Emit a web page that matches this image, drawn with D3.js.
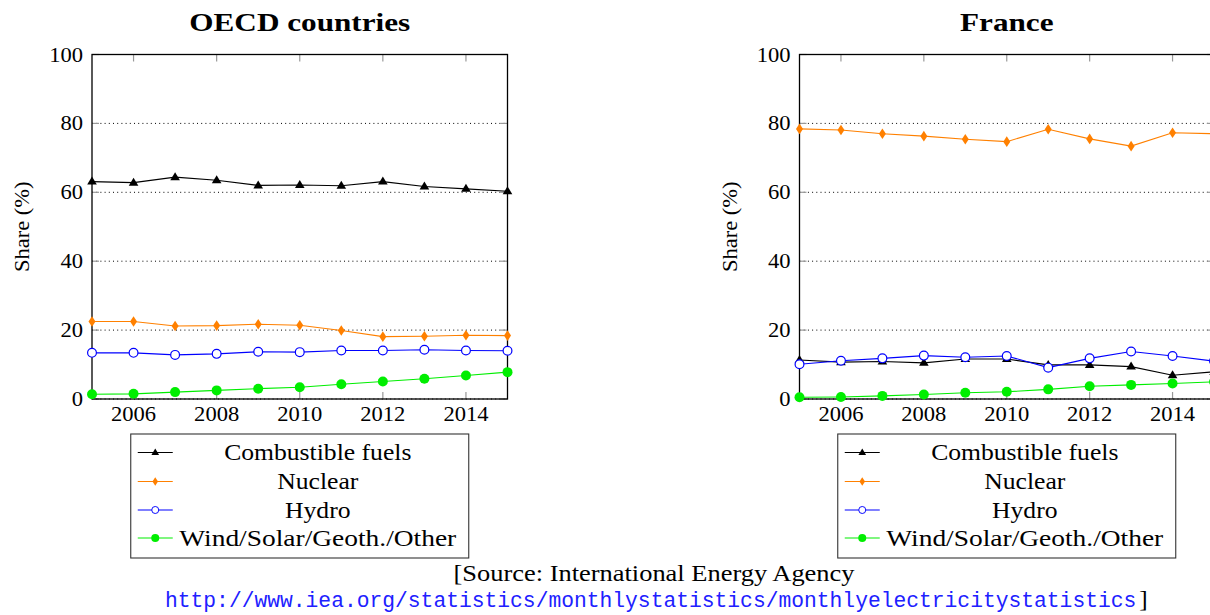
<!DOCTYPE html>
<html><head><meta charset="utf-8">
<script src="https://cdn.jsdelivr.net/npm/d3@7"></script>
<style>
html,body{margin:0;padding:0;background:#fff;overflow:hidden;}
svg{display:block;}
</style></head>
<body>
<svg id="chart" width="1210" height="615"></svg>
<script>
const years = [2005,2006,2007,2008,2009,2010,2011,2012,2013,2014,2015];
const xTicks = [2006,2008,2010,2012,2014];
const yTicks = [0,20,40,60,80,100];
const gridTicks = [0,20,40,60,80];
const seriesNames = ["Combustible fuels","Nuclear","Hydro","Wind/Solar/Geoth./Other"];
const panelTitles = ["OECD countries","France"];

const oecdCombustible = [63.1,62.8,64.4,63.5,62.0,62.1,61.9,63.1,61.7,61.0,60.3];
const oecdNuclear     = [22.5,22.5,21.2,21.3,21.7,21.4,19.9,18.1,18.2,18.5,18.4];
const oecdHydro       = [13.4,13.4,12.8,13.1,13.7,13.6,14.1,14.1,14.3,14.1,14.0];
const oecdWind        = [1.4,1.5,2.0,2.5,3.0,3.4,4.3,5.1,5.9,6.8,7.8];

const franceCombustible = [11.3,10.7,10.9,10.5,11.6,11.6,9.9,9.9,9.4,6.9,7.9];
const franceNuclear     = [78.4,78.1,77.0,76.3,75.4,74.7,78.3,75.5,73.4,77.3,77.0];
const franceHydro       = [10.1,11.1,11.8,12.6,12.1,12.5,9.1,11.8,13.8,12.5,11.0];
const franceWind        = [0.5,0.6,0.9,1.3,1.8,2.1,2.8,3.7,4.1,4.5,5.0];

const sourceLine = "[Source: International Energy Agency";
const sourceUrl = "http://www.iea.org/statistics/monthlystatistics/monthlyelectricitystatistics";

const styles = [
  {color:"#000000", marker:"triangle"},
  {color:"#ff8000", marker:"diamond"},
  {color:"#0000ff", marker:"circleOpen"},
  {color:"#00ee00", marker:"circle"}
];

const SERIF = "'Liberation Serif','Times New Roman',serif";
const svg = d3.select("#chart");

function marker(sel, type, color){
  if(type==="triangle"){
    sel.append("path").attr("d","M0,-5L4.8,3L-4.8,3Z").attr("fill",color);
  } else if(type==="diamond"){
    sel.append("path").attr("d","M0,-5.3L3.5,0L0,5.3L-3.5,0Z").attr("fill",color);
  } else if(type==="circleOpen"){
    sel.append("circle").attr("r",4.4).attr("fill","#fff").attr("stroke",color).attr("stroke-width",1.2);
  } else {
    sel.append("circle").attr("r",5).attr("fill",color);
  }
}

function stretchedText(g, x, y, txt, size, sx, anchor, weight, color, family){
  return g.append("text")
    .attr("transform",`translate(${x},${y}) scale(${sx},1)`)
    .attr("text-anchor",anchor)
    .attr("font-family",family||SERIF)
    .attr("font-size",size)
    .attr("font-weight",weight||"normal")
    .attr("fill",color||"#000")
    .text(txt);
}

function drawPanel(x0, x1, title, data){
  const x = d3.scaleLinear().domain([2005,2015]).range([x0,x1]);
  const y = d3.scaleLinear().domain([0,100]).range([399,54.5]);
  const g = svg.append("g");

  g.selectAll(".grid").data(gridTicks).enter().append("line")
    .attr("x1",x0).attr("x2",x1).attr("y1",d=>y(d)).attr("y2",d=>y(d))
    .attr("stroke","#000").attr("stroke-width",1).attr("stroke-dasharray","1,3.2");

  const tickLen = 7;
  xTicks.forEach(t=>{
    g.append("line").attr("x1",x(t)).attr("x2",x(t)).attr("y1",y(0)).attr("y2",y(0)-tickLen)
      .attr("stroke","#999").attr("stroke-width",1.2);
    g.append("line").attr("x1",x(t)).attr("x2",x(t)).attr("y1",y(100)).attr("y2",y(100)+tickLen)
      .attr("stroke","#999").attr("stroke-width",1.2);
  });
  yTicks.forEach(t=>{
    g.append("line").attr("x1",x0).attr("x2",x0+tickLen).attr("y1",y(t)).attr("y2",y(t))
      .attr("stroke","#999").attr("stroke-width",1.2);
    g.append("line").attr("x1",x1).attr("x2",x1-tickLen).attr("y1",y(t)).attr("y2",y(t))
      .attr("stroke","#999").attr("stroke-width",1.2);
  });

  g.append("rect").attr("x",x0).attr("y",y(100)).attr("width",x1-x0).attr("height",y(0)-y(100))
    .attr("fill","none").attr("stroke","#000").attr("stroke-width",1.3);

  xTicks.forEach(t=> stretchedText(g, x(t), 421, String(t), 20.5, 1.1, "middle"));
  yTicks.forEach(t=> stretchedText(g, x0-9, y(t)+7, String(t), 20.5, 1.1, "end"));

  g.append("text")
    .attr("transform",`translate(${x0-63},${y(50)}) rotate(-90) scale(1.1,1)`)
    .attr("text-anchor","middle").attr("font-family",SERIF).attr("font-size",20.5)
    .text("Share (%)");

  stretchedText(g, (x0+x1)/2, 31, title, 26, 1.2, "middle", "bold");

  const line = d3.line().x((d,i)=>x(years[i])).y(d=>y(d));
  data.forEach((vals,k)=>{
    g.append("path").attr("d",line(vals)).attr("fill","none")
      .attr("stroke",styles[k].color).attr("stroke-width",1.1);
    vals.forEach((v,i)=>{
      const m = g.append("g").attr("transform",`translate(${x(years[i])},${y(v)})`);
      marker(m, styles[k].marker, styles[k].color);
    });
  });

  const cx = (x0+x1)/2;
  const lw = 338, lx = cx - lw/2, ly = 434, lh = 124;
  g.append("rect").attr("x",lx).attr("y",ly).attr("width",lw).attr("height",lh)
    .attr("fill","#fff").attr("stroke","#333").attr("stroke-width",1.1);
  const rowY = [452.5, 481.5, 510, 538];
  const rowSx = [1.14, 1.14, 1.14, 1.22];
  seriesNames.forEach((name,k)=>{
    const ry = rowY[k];
    g.append("line").attr("x1",lx+7).attr("x2",lx+42).attr("y1",ry).attr("y2",ry)
      .attr("stroke",styles[k].color).attr("stroke-width",1.1);
    const m = g.append("g").attr("transform",`translate(${lx+24.5},${ry}) scale(0.8)`);
    marker(m, styles[k].marker, styles[k].color);
    stretchedText(g, lx+187, ry+7.5, name, 22.5, rowSx[k], "middle");
  });
}

drawPanel(92, 507.5, panelTitles[0], [oecdCombustible,oecdNuclear,oecdHydro,oecdWind]);
drawPanel(799.5, 1214, panelTitles[1], [franceCombustible,franceNuclear,franceHydro,franceWind]);

stretchedText(svg, 654, 581, sourceLine, 23.2, 1.14, "middle");
const urlT = svg.append("text").attr("x",165).attr("y",607)
  .attr("font-family","'Liberation Mono','DejaVu Sans Mono',monospace")
  .attr("font-size",21.3).attr("fill","#2020ff").text(sourceUrl);
const uw = urlT.node().getComputedTextLength();
stretchedText(svg, 165+uw+3, 607, "]", 23, 1.1, "start");
</script>
</body></html>
